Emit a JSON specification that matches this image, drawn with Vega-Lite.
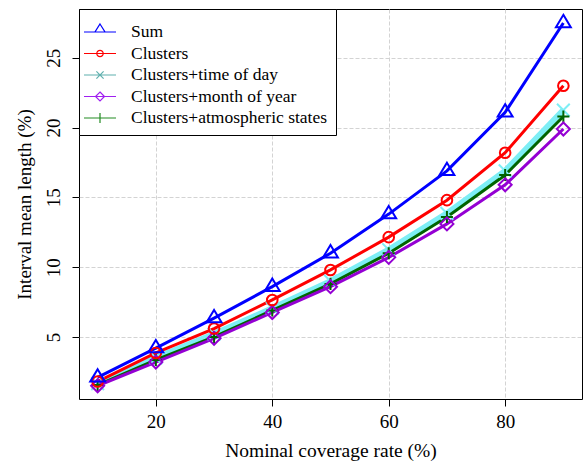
{
  "$schema": "https://vega.github.io/schema/vega-lite/v6.json",
  "width": 503,
  "height": 390,
  "autosize": {"type": "none"},
  "padding": {"left": 79, "top": 9, "right": 1, "bottom": 68},
  "background": "white",
  "config": {
    "font": "Liberation Serif, Times New Roman, Times, serif",
    "view": {"stroke": "black", "strokeWidth": 1},
    "axis": {
      "domain": false,
      "tickColor": "black",
      "tickSize": 7,
      "labelColor": "black",
      "titleColor": "black",
      "labelFontSize": 19,
      "titleFontSize": 19,
      "titleFontWeight": "normal",
      "labelFont": "Liberation Serif, Times New Roman, Times, serif",
      "titleFont": "Liberation Serif, Times New Roman, Times, serif",
      "gridColor": "#d3d3d3",
      "gridDash": [4, 2],
      "gridWidth": 1
    },
    "legend": {
      "labelFont": "Liberation Serif, Times New Roman, Times, serif",
      "titleFont": "Liberation Serif, Times New Roman, Times, serif"
    }
  },
  "data": {
    "values": [
      {"series": "Sum", "coverage": 10, "length": 2.1},
      {"series": "Sum", "coverage": 20, "length": 4.2},
      {"series": "Sum", "coverage": 30, "length": 6.35},
      {"series": "Sum", "coverage": 40, "length": 8.6},
      {"series": "Sum", "coverage": 50, "length": 11.0},
      {"series": "Sum", "coverage": 60, "length": 13.8},
      {"series": "Sum", "coverage": 70, "length": 16.9},
      {"series": "Sum", "coverage": 80, "length": 21.1},
      {"series": "Sum", "coverage": 90, "length": 27.5},
      {"series": "Clusters", "coverage": 10, "length": 1.8},
      {"series": "Clusters", "coverage": 20, "length": 3.85},
      {"series": "Clusters", "coverage": 30, "length": 5.6},
      {"series": "Clusters", "coverage": 40, "length": 7.65},
      {"series": "Clusters", "coverage": 50, "length": 9.8},
      {"series": "Clusters", "coverage": 60, "length": 12.15},
      {"series": "Clusters", "coverage": 70, "length": 14.8},
      {"series": "Clusters", "coverage": 80, "length": 18.2},
      {"series": "Clusters", "coverage": 90, "length": 23.0},
      {"series": "Clusters+time of day", "coverage": 10, "length": 1.65},
      {"series": "Clusters+time of day", "coverage": 20, "length": 3.5},
      {"series": "Clusters+time of day", "coverage": 30, "length": 5.2},
      {"series": "Clusters+time of day", "coverage": 40, "length": 7.05},
      {"series": "Clusters+time of day", "coverage": 50, "length": 9.0},
      {"series": "Clusters+time of day", "coverage": 60, "length": 11.25},
      {"series": "Clusters+time of day", "coverage": 70, "length": 13.85},
      {"series": "Clusters+time of day", "coverage": 80, "length": 16.9},
      {"series": "Clusters+time of day", "coverage": 90, "length": 21.25},
      {"series": "Clusters+month of year", "coverage": 10, "length": 1.5},
      {"series": "Clusters+month of year", "coverage": 20, "length": 3.2},
      {"series": "Clusters+month of year", "coverage": 30, "length": 4.9},
      {"series": "Clusters+month of year", "coverage": 40, "length": 6.75},
      {"series": "Clusters+month of year", "coverage": 50, "length": 8.6},
      {"series": "Clusters+month of year", "coverage": 60, "length": 10.7},
      {"series": "Clusters+month of year", "coverage": 70, "length": 13.1},
      {"series": "Clusters+month of year", "coverage": 80, "length": 15.9},
      {"series": "Clusters+month of year", "coverage": 90, "length": 19.9},
      {"series": "Clusters+atmospheric states", "coverage": 10, "length": 1.55},
      {"series": "Clusters+atmospheric states", "coverage": 20, "length": 3.35},
      {"series": "Clusters+atmospheric states", "coverage": 30, "length": 5.0},
      {"series": "Clusters+atmospheric states", "coverage": 40, "length": 6.9},
      {"series": "Clusters+atmospheric states", "coverage": 50, "length": 8.8},
      {"series": "Clusters+atmospheric states", "coverage": 60, "length": 11.0},
      {"series": "Clusters+atmospheric states", "coverage": 70, "length": 13.6},
      {"series": "Clusters+atmospheric states", "coverage": 80, "length": 16.6},
      {"series": "Clusters+atmospheric states", "coverage": 90, "length": 20.8}
    ]
  },
  "encoding": {
    "x": {
      "field": "coverage",
      "type": "quantitative",
      "scale": {"domain": [6.8, 93.2], "nice": false, "zero": false},
      "axis": {"values": [20, 40, 60, 80], "title": "Nominal coverage rate (%)", "titleFontSize": 19.5, "labelPadding": 6, "titlePadding": 10}
    },
    "y": {
      "field": "length",
      "type": "quantitative",
      "scale": {"domain": [0.55, 28.5], "nice": false, "zero": false},
      "axis": {"values": [5, 10, 15, 20, 25], "title": "Interval mean length (%)", "labelAngle": -90, "labelAlign": "center", "labelBaseline": "bottom", "labelPadding": 8.5, "titlePadding": 10}
    }
  },
  "layer": [
    {"transform": [{"filter": "datum.series === 'Clusters+time of day'"}], "mark": {"type": "line", "strokeWidth": 6, "color": "#7DEEF5"}},
    {"transform": [{"filter": "datum.series === 'Clusters+atmospheric states'"}], "mark": {"type": "line", "strokeWidth": 3, "color": "#006400"}},
    {"transform": [{"filter": "datum.series === 'Clusters+month of year'"}], "mark": {"type": "line", "strokeWidth": 3, "color": "#9400D3"}},
    {"transform": [{"filter": "datum.series === 'Clusters'"}], "mark": {"type": "line", "strokeWidth": 3, "color": "#FF0000"}},
    {"transform": [{"filter": "datum.series === 'Sum'"}], "mark": {"type": "line", "strokeWidth": 3, "color": "#0000FF"}},
    {"transform": [{"filter": "datum.series === 'Clusters+time of day'"}], "mark": {"type": "point", "filled": false, "strokeWidth": 2, "size": 200, "opacity": 1, "color": "#7DEEF5", "shape": "M-0.9,-0.9L0.9,0.9M-0.9,0.9L0.9,-0.9"}},
    {"transform": [{"filter": "datum.series === 'Clusters+atmospheric states'"}], "mark": {"type": "point", "filled": false, "strokeWidth": 2, "size": 200, "opacity": 1, "color": "#006400", "shape": "M-0.85,0L0.85,0M0,-0.85L0,0.85"}},
    {"transform": [{"filter": "datum.series === 'Clusters+month of year'"}], "mark": {"type": "point", "filled": false, "strokeWidth": 2, "size": 200, "opacity": 1, "color": "#9400D3", "shape": "M0,-0.92L0.92,0L0,0.92L-0.92,0Z"}},
    {"transform": [{"filter": "datum.series === 'Clusters'"}], "mark": {"type": "point", "filled": false, "strokeWidth": 2, "size": 200, "opacity": 1, "color": "#FF0000", "shape": "M0.75,0A0.75,0.75 0 1,1 -0.75,0A0.75,0.75 0 1,1 0.75,0"}},
    {"transform": [{"filter": "datum.series === 'Sum'"}], "mark": {"type": "point", "filled": false, "strokeWidth": 2, "size": 200, "opacity": 1, "color": "#0000FF", "shape": "M0,-1.15L1.05,0.6L-1.05,0.6Z"}},
    {
      "transform": [{"filter": "false"}],
      "mark": {"type": "point", "filled": false, "strokeWidth": 1.2, "opacity": 1},
      "encoding": {
        "shape": {
          "field": "series",
          "type": "nominal",
          "scale": {
            "domain": ["Sum", "Clusters", "Clusters+time of day", "Clusters+month of year", "Clusters+atmospheric states"],
            "range": [
              "M-1.5,0L2.5,0M0.5,-1L1.125,0L-0.125,0Z",
              "M-1.5,0L2.5,0M0.9,0A0.4,0.4 0 1,1 0.1,0A0.4,0.4 0 1,1 0.9,0",
              "M-1.5,0L2.5,0M0.05,-0.45L0.95,0.45M0.05,0.45L0.95,-0.45",
              "M-1.5,0L2.5,0M0.5,-0.56L1.06,0L0.5,0.56L-0.06,0Z",
              "M-1.5,0L2.5,0M0.5,-0.62L0.5,0.62"
            ]
          },
          "legend": {
            "title": " ",
            "titleFontSize": 4,
            "titlePadding": 2,
            "orient": "top-left",
            "offset": 0,
            "padding": 8,
            "strokeColor": "black",
            "fillColor": "white",
            "cornerRadius": 0,
            "labelFontSize": 17.5,
            "labelColor": "black",
            "labelOffset": 26,
            "labelLimit": 400,
            "symbolSize": 256,
            "symbolStrokeWidth": 1.2,
            "rowPadding": 3.5
          }
        },
        "stroke": {
          "field": "series",
          "type": "nominal",
          "scale": {
            "domain": ["Sum", "Clusters", "Clusters+time of day", "Clusters+month of year", "Clusters+atmospheric states"],
            "range": ["#0000FF", "#FF0000", "#5FB0AE", "#A020F0", "#228B22"]
          }
        }
      }
    }
  ]
}
